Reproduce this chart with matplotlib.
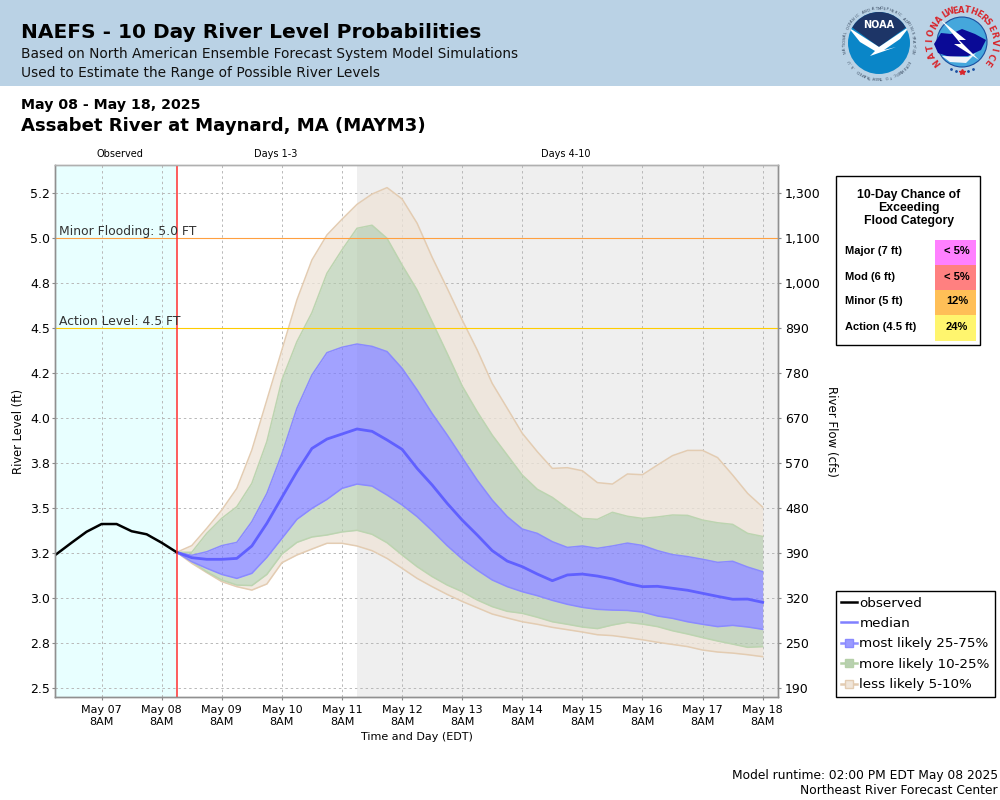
import numpy as np
import pandas as pd
import matplotlib
matplotlib.use("Agg")
import matplotlib.pyplot as plt
from matplotlib.lines import Line2D
from matplotlib.patches import Circle, Polygon, Rectangle

# valores (ft)
obs_start = "2025-05-06 14:00"
observed = [3.244, 3.307, 3.368, 3.411, 3.411, 3.371, 3.354, 3.307, 3.254]

fcst_start = "2025-05-08 14:00"
median = [3.254, 3.224, 3.215, 3.215, 3.220, 3.289, 3.415, 3.559, 3.702, 3.831,
          3.883, 3.911, 3.939, 3.926, 3.878, 3.826, 3.720, 3.628, 3.526, 3.433,
          3.350, 3.263, 3.205, 3.174, 3.133, 3.096, 3.128, 3.133, 3.122, 3.106,
          3.081, 3.063, 3.065, 3.054, 3.043, 3.026, 3.009, 2.993, 2.994, 2.976]
p75 = [3.254, 3.237, 3.257, 3.291, 3.309, 3.424, 3.581, 3.800, 4.054, 4.239,
       4.363, 4.393, 4.411, 4.398, 4.369, 4.276, 4.156, 4.025, 3.906, 3.780,
       3.655, 3.544, 3.452, 3.383, 3.359, 3.313, 3.281, 3.289, 3.276, 3.289,
       3.305, 3.292, 3.263, 3.241, 3.230, 3.215, 3.198, 3.204, 3.172, 3.146]
p25 = [3.254, 3.202, 3.165, 3.131, 3.109, 3.137, 3.226, 3.331, 3.437, 3.498,
       3.548, 3.609, 3.633, 3.622, 3.572, 3.517, 3.452, 3.374, 3.291, 3.217,
       3.155, 3.100, 3.063, 3.035, 3.013, 2.987, 2.965, 2.948, 2.937, 2.933,
       2.931, 2.922, 2.900, 2.887, 2.868, 2.854, 2.841, 2.848, 2.839, 2.826]
p90 = [3.254, 3.254, 3.359, 3.443, 3.507, 3.637, 3.869, 4.211, 4.424, 4.585,
       4.804, 4.934, 5.054, 5.071, 4.998, 4.850, 4.711, 4.535, 4.359, 4.178,
       4.035, 3.905, 3.794, 3.683, 3.604, 3.559, 3.498, 3.442, 3.437, 3.476,
       3.454, 3.442, 3.450, 3.461, 3.459, 3.433, 3.418, 3.409, 3.359, 3.342]
p10 = [3.254, 3.202, 3.146, 3.100, 3.072, 3.069, 3.131, 3.244, 3.309, 3.339,
       3.350, 3.367, 3.376, 3.354, 3.307, 3.239, 3.174, 3.119, 3.072, 3.035,
       2.989, 2.952, 2.926, 2.915, 2.893, 2.868, 2.854, 2.839, 2.830, 2.850,
       2.865, 2.855, 2.841, 2.818, 2.800, 2.780, 2.761, 2.744, 2.726, 2.730]
p95 = [3.254, 3.291, 3.387, 3.489, 3.609, 3.822, 4.100, 4.378, 4.656, 4.878,
       5.017, 5.104, 5.187, 5.244, 5.280, 5.217, 5.082, 4.893, 4.721, 4.545,
       4.378, 4.192, 4.054, 3.915, 3.813, 3.720, 3.724, 3.707, 3.641, 3.633,
       3.689, 3.685, 3.739, 3.791, 3.820, 3.820, 3.780, 3.683, 3.581, 3.505]
p05 = [3.254, 3.193, 3.141, 3.091, 3.063, 3.044, 3.078, 3.196, 3.239, 3.272,
       3.304, 3.304, 3.289, 3.263, 3.220, 3.165, 3.109, 3.063, 3.020, 2.981,
       2.946, 2.911, 2.889, 2.868, 2.854, 2.837, 2.824, 2.811, 2.796, 2.791,
       2.780, 2.768, 2.754, 2.742, 2.730, 2.711, 2.700, 2.694, 2.685, 2.674]

level_ticks = [5.25, 5.0, 4.75, 4.5, 4.25, 4.0, 3.75, 3.5, 3.25, 3.0, 2.75, 2.5]
level_labels = ["5.2", "5.0", "4.8", "4.5", "4.2", "4.0", "3.8", "3.5", "3.2", "3.0", "2.8", "2.5"]
flow_labels = ["1,300", "1,100", "1,000", "890", "780", "670", "570", "480", "390", "320", "250", "190"]

categories = ["Major (7 ft)", "Mod (6 ft)", "Minor (5 ft)", "Action (4.5 ft)"]
chances = ["< 5%", "< 5%", "12%", "24%"]
chance_colors = ["#ff80ff", "#ff8080", "#ffbf57", "#fff56e"]

C_BLUE = (127 / 255, 127 / 255, 1, 0.72)
C_GREEN = (180 / 255, 203 / 255, 173 / 255, 0.67)
C_BEIGE = (238 / 255, 228 / 255, 216 / 255, 0.75)
E_BLUE = "#8a8aff"
E_GREEN = "#bcd4b0"
E_BEIGE = "#e3ccb2"

plt.rcParams["font.family"] = "DejaVu Sans"

fig = plt.figure(figsize=(10, 8), dpi=100)
# ejes del grafico: pixeles 55-778 en x, 165-697 en y
ax = fig.add_axes([0.055, 1 - 697 / 800, 0.723, 532 / 800])

obs_t = pd.date_range(obs_start, periods=len(observed), freq="6h")
fc_t = pd.date_range(fcst_start, periods=len(median), freq="6h")
now = pd.Timestamp(fcst_start)
x_left = pd.Timestamp("2025-05-06 13:24")
x_right = pd.Timestamp("2025-05-18 14:07")

ax.axvspan(x_left, now, color="#e8ffff", lw=0, zorder=0)
ax.axvspan(now + pd.Timedelta(days=3), x_right, color="#efefef", lw=0, zorder=0)
ax.grid(True, color="#b8b8b8", lw=0.7, ls=(0, (2.5, 3)), zorder=1)
ax.set_axisbelow(True)

# bandas apiladas
ax.fill_between(fc_t, p05, p10, color=C_BEIGE, lw=0, zorder=2)
ax.fill_between(fc_t, p90, p95, color=C_BEIGE, lw=0, zorder=2)
ax.fill_between(fc_t, p10, p25, color=C_GREEN, lw=0, zorder=2)
ax.fill_between(fc_t, p75, p90, color=C_GREEN, lw=0, zorder=2)
ax.fill_between(fc_t, p25, p75, color=C_BLUE, lw=0, zorder=2)
for serie, col in [(p05, E_BEIGE), (p95, E_BEIGE), (p10, E_GREEN), (p90, E_GREEN), (p25, E_BLUE), (p75, E_BLUE)]:
    ax.plot(fc_t, serie, color=col, lw=1.1, zorder=3)
ax.plot(fc_t, median, color="#6060ff", lw=2, zorder=4)
ax.plot(obs_t, observed, color="black", lw=1.8, zorder=4)

ax.axhline(5.0, color="#ffa040", lw=0.8, zorder=5)
ax.axhline(4.5, color="#ffcc00", lw=0.8, zorder=5)
ax.axvline(now, color="#ff3030", lw=1.1, zorder=5)
ax.text(pd.Timestamp("2025-05-06 15:00"), 5.0, "Minor Flooding: 5.0 FT", fontsize=8.9, color="#333333", va="bottom", zorder=6)
ax.text(pd.Timestamp("2025-05-06 15:00"), 4.5, "Action Level: 4.5 FT", fontsize=8.9, color="#333333", va="bottom", zorder=6)

ax.set_xlim(x_left, x_right)
ax.set_ylim(2.45, 5.4056)

day_ticks = pd.date_range("2025-05-07 08:00", "2025-05-18 08:00", freq="D")
ax.set_xticks(day_ticks)
ax.set_xticklabels([d.strftime("%b %d") + "\n8AM" for d in day_ticks], fontsize=8, linespacing=1.25)
ax.set_yticks(level_ticks)
ax.set_yticklabels(level_labels, fontsize=9)
ax.tick_params(axis="both", color="#888888", length=2, width=0.8)
ax.tick_params(axis="x", pad=3.5)
ax.tick_params(axis="y", pad=1.5)
ax.set_xlabel("Time and Day (EDT)", fontsize=8, labelpad=4)
ax.set_ylabel("River Level (ft)", fontsize=8.3, labelpad=4)

ax2 = ax.twinx()
ax2.set_ylim(ax.get_ylim())
ax2.set_yticks(level_ticks)
ax2.set_yticklabels(flow_labels, fontsize=9)
ax2.tick_params(axis="y", color="#888888", length=2, width=0.8, pad=3)
ax2.set_ylabel("River Flow (cfs)", fontsize=8.5, rotation=270)
ax2.yaxis.set_label_coords(1.083, 0.5)
for a in (ax, ax2):
    for nombre, sp in a.spines.items():
        sp.set_color("#b0b0b0" if nombre == "top" else "#909090")
        sp.set_linewidth(1.0)

# capa en pixeles para cabecera, logos y tabla
ov = fig.add_axes([0, 0, 1, 1], zorder=10)
ov.set_xlim(0, 1000)
ov.set_ylim(800, 0)
ov.axis("off")
ov.patch.set_alpha(0)

ov.add_patch(Rectangle((0, 0), 1000, 86, color="#bad2e5", lw=0))
ov.text(21, 33, "NAEFS - 10 Day River Level Probabilities", fontsize=14.5, fontweight="bold", va="center")
ov.text(21, 54, "Based on North American Ensemble Forecast System Model Simulations", fontsize=9.95, va="center", color="#111111")
ov.text(21, 73, "Used to Estimate the Range of Possible River Levels", fontsize=9.95, va="center", color="#111111")
ov.text(21, 105, "May 08 - May 18, 2025", fontsize=10.2, fontweight="bold", va="center")
ov.text(21, 126, "Assabet River at Maynard, MA (MAYM3)", fontsize=13.1, fontweight="bold", va="center")
ov.text(120, 154, "Observed", fontsize=7, ha="center", va="center")
ov.text(276, 154, "Days 1-3", fontsize=7, ha="center", va="center")
ov.text(566, 154, "Days 4-10", fontsize=7, ha="center", va="center")
ov.text(998, 775, "Model runtime: 02:00 PM EDT May 08 2025", fontsize=8.85, ha="right", va="center")
ov.text(998, 791, "Northeast River Forecast Center", fontsize=8.85, ha="right", va="center")


def ring_text(cx, cy, r, txt, start, stop, **kw):
    # letras sobre un arco, angulos en grados desde arriba, sentido horario
    for ang, ch in zip(np.linspace(start, stop, len(txt)), txt):
        a = np.radians(ang)
        ov.text(cx + r * np.sin(a), cy - r * np.cos(a), ch, rotation=-ang,
                ha="center", va="center", **kw)


# logo NOAA
disco = Circle((879, 43), 31, color="#0a86c8", lw=0)
ov.add_patch(disco)
navy = Polygon([[840, 0], [918, 0], [918, 26], [908, 26], [879, 47], [850, 26], [840, 26]], color="#1d3567", lw=0)
ov.add_patch(navy)
navy.set_clip_path(disco)
ala = Polygon([[848, 27], [879, 47], [910, 26], [900, 39], [884, 50], [896, 47], [870, 56], [875, 51], [860, 42]],
              color="white", lw=0)
ov.add_patch(ala)
ala.set_clip_path(disco)
ov.text(879, 25, "NOAA", color="white", fontsize=7, fontweight="bold", ha="center", va="center")
ring_text(879, 43, 34.5, "NATIONAL OCEANIC AND ATMOSPHERIC ADMINISTRATION", -105, 105, fontsize=2.6, color="#33445a")
ring_text(879, 43, 34.5, "U.S. DEPARTMENT OF COMMERCE"[::-1], 122, 238, fontsize=2.6, color="#33445a")

# logo NWS
ov.add_patch(Circle((962, 42), 25, color="#45a7dc", ec="#1a4fa0", lw=0.8))
ov.add_patch(Polygon([[934, 44], [941, 33], [951, 34], [962, 29], [975, 34], [986, 40], [981, 50],
                      [968, 56], [950, 57], [938, 53]], color="#0a0a96", lw=0))
ov.add_patch(Polygon([[942, 56], [968, 57], [976, 53], [966, 63], [950, 62]], color="#f0f4f8", lw=0))
ov.add_patch(Polygon([[941, 20], [966, 40], [959, 40], [979, 60], [954, 44], [961, 44]], color="white", lw=0))
ring_text(962, 42, 32, "NATIONAL", -128, -32, fontsize=6, fontweight="bold", color="#d8262c")
ring_text(962, 42, 32, "WEATHER", -22, 42, fontsize=6, fontweight="bold", color="#d8262c")
ring_text(962, 42, 32, "SERVICE", 52, 128, fontsize=6, fontweight="bold", color="#d8262c")
ov.plot([951, 956, 968, 973], [69, 71, 71, 69], ls="", marker=".", ms=2, color="#1a4fa0")
ov.plot([962], [72], ls="", marker="*", ms=4, color="#d8262c")

# tabla de probabilidades
ov.add_patch(Rectangle((836, 176), 144, 169, fc="white", ec="black", lw=1))
ov.text(909, 208, "10-Day Chance of\nExceeding\nFlood Category", family="Liberation Sans", fontsize=8.8,
        fontweight="bold", ha="center", ma="center", va="center", linespacing=1.1)
for i, (cat, pct, col) in enumerate(zip(categories, chances, chance_colors)):
    y0 = 240 + 25 * i
    ov.add_patch(Rectangle((935, y0), 41, 25 if i < 3 else 26, color=col, lw=0))
    ov.text(845, y0 + 11.5, cat, family="Liberation Sans", fontsize=8.05, fontweight="bold", va="center")
    ov.text(957, y0 + 11.5, pct, family="Liberation Sans", fontsize=8.05, fontweight="bold", ha="center", va="center")

handles = [
    Line2D([], [], color="black", lw=1.8),
    Line2D([], [], color="#8080ff", lw=1.8),
    Line2D([], [], color="#9090ff", lw=1.8, marker="s", ms=6, mfc="#9a9aff", mec="#8a8aff"),
    Line2D([], [], color="#b5d0a8", lw=1.8, marker="s", ms=6, mfc="#b8d0b0", mec="#b5d0a8"),
    Line2D([], [], color="#e3ccb2", lw=1.8, marker="s", ms=6, mfc="#f0e6da", mec="#e3ccb2"),
]
names = ["observed", "median", "most likely 25-75%", "more likely 10-25%", "less likely 5-10%"]
leg = ov.legend(handles, names, loc="upper left", bbox_to_anchor=(835.5 / 1000, 1 - 591 / 800),
                fontsize=9.7, frameon=True, fancybox=False, framealpha=1, edgecolor="black",
                borderpad=0.42, labelspacing=0.55, handlelength=1.15, handletextpad=0.2, borderaxespad=0)
leg.get_frame().set_linewidth(1)

fig.savefig("out.png", dpi=100)
